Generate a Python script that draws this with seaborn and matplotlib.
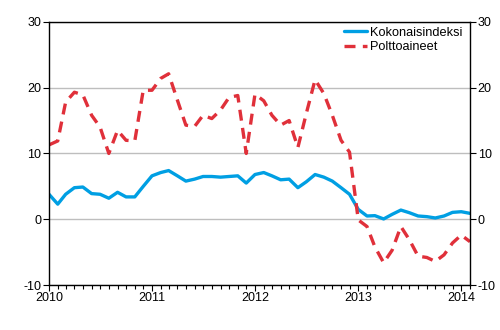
import matplotlib
matplotlib.use("Agg")
import matplotlib.pyplot as plt
import matplotlib.dates as mdates
import matplotlib.ticker as mticker
import numpy as np
import pandas as pd
import seaborn as sns

# Monthly annual change (%), January 2010 - February 2014
months = pd.date_range("2010-01-01", periods=50, freq="MS")

kokonaisindeksi = [
    3.8, 2.3, 3.8, 4.8, 4.9, 3.9, 3.8, 3.2, 4.1, 3.4, 3.4, 5.0,
    6.6, 7.1, 7.4, 6.6, 5.8, 6.1, 6.5, 6.5, 6.4, 6.5, 6.6, 5.5,
    6.8, 7.1, 6.6, 6.0, 6.1, 4.8, 5.7, 6.8, 6.4, 5.8, 4.8, 3.8,
    1.5, 0.5, 0.55, 0.05, 0.75, 1.4, 1.0, 0.5, 0.4, 0.2, 0.5, 1.05,
    1.15, 0.9,
]
polttoaineet = [
    11.3, 11.9, 17.8, 19.3, 18.9, 15.8, 14.0, 10.0, 13.5, 12.0, 11.9, 19.6,
    19.6, 21.4, 22.1, 18.1, 14.3, 14.1, 15.8, 15.3, 16.6, 18.5, 18.8, 10.0,
    19.0, 18.0, 15.8, 14.3, 15.0, 10.9, 16.1, 21.2, 19.1, 15.8, 12.0, 10.2,
    -0.1, -1.1, -4.2, -6.6, -4.7, -1.1, -3.1, -5.6, -5.8, -6.4, -5.4, -3.6,
    -2.4, -3.4,
]
series_names = ["Kokonaisindeksi", "Polttoaineet"]
year_labels = ["2010", "2011", "2012", "2013", "2014"]
y_ticks = [-10, 0, 10, 20, 30]

df = pd.DataFrame({
    "kuukausi": np.concatenate([months, months]),
    "muutos": kokonaisindeksi + polttoaineet,
    "sarja": [series_names[0]] * len(months) + [series_names[1]] * len(months),
})

sns.set_theme(style="white")
plt.rcParams["font.family"] = ["Liberation Sans", "DejaVu Sans"]
plt.rcParams["axes.unicode_minus"] = False

fig = plt.figure(figsize=(5.0, 3.3), dpi=100)
ax = fig.add_axes([0.098, 0.136, 0.842, 0.798])

blue = "#009FE3"
red = "#E0303A"
sns.lineplot(
    data=df, x="kuukausi", y="muutos", hue="sarja", style="sarja",
    palette={series_names[0]: blue, series_names[1]: red},
    dashes={series_names[0]: "", series_names[1]: (3.3, 2.2)},
    linewidth=2.4, ax=ax, legend=True,
)

ax.set_xlim(months[0], months[-1])
ax.set_ylim(-10, 30)
ax.set_yticks(y_ticks)
ax.yaxis.set_major_formatter(mticker.FuncFormatter(lambda v, p: f"{v:.0f}"))
ax.grid(axis="y", color="#BEBEBE", linewidth=1.0)
ax.set_axisbelow(True)

year_pos = [pd.Timestamp(f"{y}-01-01") for y in year_labels]
ax.set_xticks(year_pos)
ax.set_xticklabels(year_labels)
ax.xaxis.set_minor_locator(mdates.MonthLocator())

for side in ["left", "right", "top", "bottom"]:
    ax.spines[side].set_visible(True)
    ax.spines[side].set_color("black")
    ax.spines[side].set_linewidth(1.0)

ax.tick_params(axis="y", which="both", left=True, right=True,
               labelleft=True, labelright=True, direction="out",
               length=4, width=0.8, color="black", labelsize=9, pad=1.5)
ax.tick_params(axis="x", which="major", bottom=True, direction="out",
               length=4, width=0.8, color="black", labelsize=9, pad=1)
ax.tick_params(axis="x", which="minor", bottom=True, direction="out",
               length=3, width=0.8, color="black")
for lbl in ax.get_yticklabels() + ax.get_xticklabels():
    lbl.set_color("black")

ax.set_xlabel("")
ax.set_ylabel("")

leg = ax.legend(loc="upper right", frameon=False, fontsize=9.2,
                handlelength=1.8, handletextpad=0.25, labelspacing=0.2,
                borderaxespad=0.0, bbox_to_anchor=(0.995, 1.0))
for txt in leg.get_texts():
    txt.set_color("black")

fig.savefig("out.png", dpi=100)
